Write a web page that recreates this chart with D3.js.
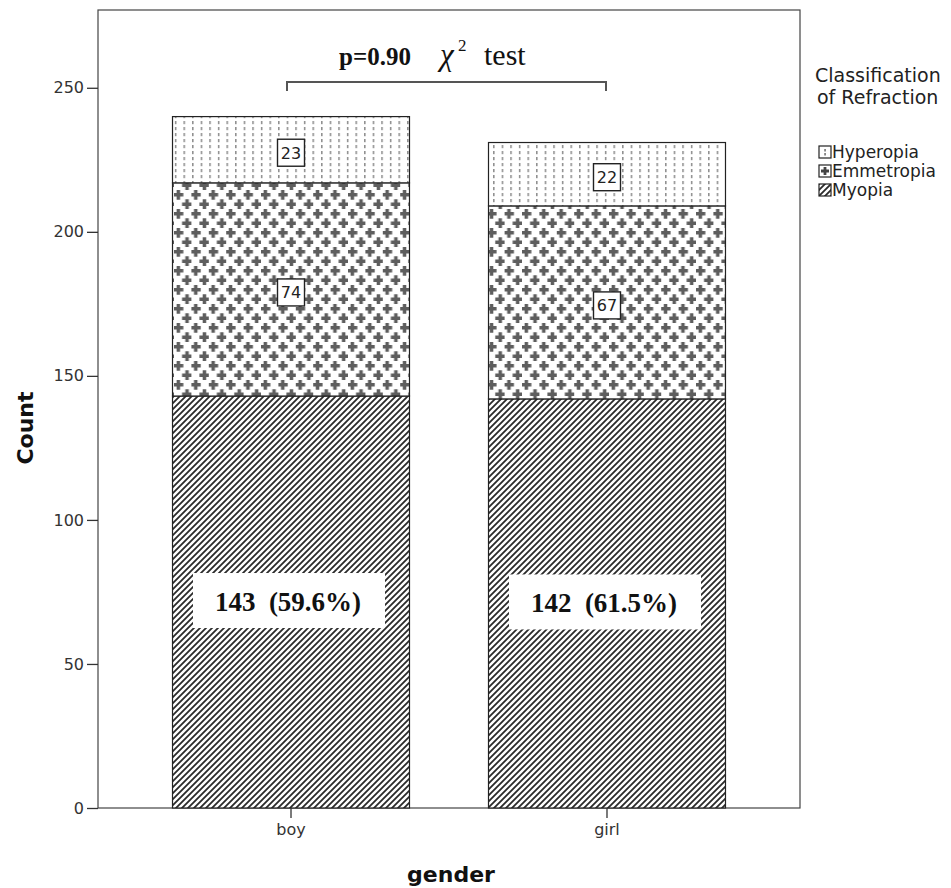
<!DOCTYPE html>
<html>
<head>
<meta charset="utf-8">
<script src="https://cdn.jsdelivr.net/npm/d3@7/dist/d3.min.js"></script>
<style>
  html, body { margin: 0; padding: 0; background: #fff; }
  svg { display: block; }
</style>
</head>
<body>
<svg id="chart" width="951" height="888"></svg>
<script>
// Refraction classification counts by gender (stacked, bottom to top)
const genders = ["boy", "girl"];
const classes = ["Myopia", "Emmetropia", "Hyperopia"];
const myopia = [143, 142];
const emmetropia = [74, 67];
const hyperopia = [23, 22];
const yTicks = [0, 50, 100, 150, 200, 250];
const legendOrder = ["Hyperopia", "Emmetropia", "Myopia"];
const pValueText = "p=0.90";

const SANS = "DejaVu Sans, Verdana, sans-serif";
const SERIF = "Liberation Serif, Times New Roman, serif";
const plot = { left: 98, right: 800, top: 10, bottom: 808 };

const svg = d3.select("#chart");

// Fill patterns for each class
const defs = svg.append("defs");
const hatch = defs.append("pattern").attr("id", "pat-Myopia")
  .attr("patternUnits", "userSpaceOnUse").attr("width", 6).attr("height", 6);
hatch.append("rect").attr("width", 6).attr("height", 6).attr("fill", "#fff");
hatch.append("path").attr("d", "M-1,1 L1,-1 M0,6 L6,0 M5,7 L7,5")
  .attr("stroke", "#2a2a2a").attr("stroke-width", 1.8);

const plusPath = (cx, cy, a = 1.75, r = 5) =>
  `M${cx - a},${cy - r}h${2 * a}v${r - a}h${r - a}v${2 * a}h${a - r}v${r - a}h${-2 * a}v${a - r}h${a - r}v${-2 * a}h${r - a}z`;
const cross = defs.append("pattern").attr("id", "pat-Emmetropia")
  .attr("patternUnits", "userSpaceOnUse").attr("width", 17.4).attr("height", 19);
cross.append("rect").attr("width", 17.4).attr("height", 19).attr("fill", "#fff");
[[4.35, 4.75], [13.05, 14.25]].forEach(([cx, cy]) => {
  cross.append("path").attr("d", plusPath(cx, cy)).attr("fill", "#5e5e5e");
});

const dots = defs.append("pattern").attr("id", "pat-Hyperopia")
  .attr("patternUnits", "userSpaceOnUse").attr("width", 8.6).attr("height", 6);
dots.append("rect").attr("width", 8.6).attr("height", 6).attr("fill", "#fff");
dots.append("rect").attr("x", 3).attr("y", 1).attr("width", 1.3).attr("height", 3.2)
  .attr("fill", "#7a7a7a");

// Scales
const x = d3.scaleBand().domain(genders)
  .range([plot.left, plot.right]).paddingInner(0.25).paddingOuter(0.2358);
const y = d3.scaleLinear().domain([0, 277]).range([plot.bottom, plot.top]);

const rows = genders.map((g, i) => ({
  gender: g, Myopia: myopia[i], Emmetropia: emmetropia[i], Hyperopia: hyperopia[i]
}));
const series = d3.stack().keys(classes)(rows);

// Plot frame
svg.append("rect")
  .attr("x", plot.left).attr("y", plot.top)
  .attr("width", plot.right - plot.left).attr("height", plot.bottom - plot.top)
  .attr("fill", "#fff").attr("stroke", "#444").attr("stroke-width", 1.2);

// Stacked bars
const gBars = svg.append("g");
series.forEach(s => {
  gBars.selectAll(null).data(s).enter().append("rect")
    .attr("x", d => x(d.data.gender))
    .attr("width", x.bandwidth())
    .attr("y", d => y(d[1]))
    .attr("height", d => y(d[0]) - y(d[1]))
    .attr("fill", `url(#pat-${s.key})`)
    .attr("stroke", "#222").attr("stroke-width", 1.2);
});

// Small value boxes for Emmetropia and Hyperopia segments
series.filter(s => s.key !== "Myopia").forEach(s => {
  s.forEach(d => {
    const cx = x(d.data.gender) + x.bandwidth() / 2;
    const cy = (y(d[0]) + y(d[1])) / 2 + 3;
    const g = svg.append("g");
    g.append("rect").attr("x", cx - 13.5).attr("y", cy - 13.5)
      .attr("width", 27).attr("height", 27)
      .attr("fill", "#fff").attr("stroke", "#222").attr("stroke-width", 1.4);
    g.append("text").attr("x", cx).attr("y", cy + 6)
      .attr("text-anchor", "middle")
      .attr("font-family", SANS)
      .attr("font-size", 16).attr("fill", "#222")
      .text(d.data[s.key]);
  });
});

// Large Myopia labels with share of the bar total
series.find(s => s.key === "Myopia").forEach((d, i) => {
  const total = myopia[i] + emmetropia[i] + hyperopia[i];
  const pct = (100 * myopia[i] / total).toFixed(1);
  const cx = x(d.data.gender) + x.bandwidth() / 2;
  const cy = y(d[1] / 2);
  svg.append("rect").attr("x", cx - 98).attr("y", cy - 29)
    .attr("width", 192).attr("height", 55).attr("fill", "#fff");
  svg.append("text").attr("x", cx - 3).attr("y", cy + 9)
    .attr("text-anchor", "middle")
    .attr("font-family", SERIF)
    .attr("font-weight", "bold").attr("font-size", 27).attr("fill", "#111")
    .attr("xml:space", "preserve")
    .text(`${d.data.Myopia}  (${pct}%)`);
});

// Y axis
const yAxis = d3.axisLeft(y).tickValues(yTicks).tickSize(11).tickPadding(3);
const gy = svg.append("g").attr("transform", `translate(${plot.left},0)`).call(yAxis);
gy.select(".domain").remove();
gy.selectAll(".tick line").attr("stroke", "#333").attr("stroke-width", 1.3);
gy.selectAll(".tick text").attr("font-family", SANS)
  .attr("font-size", 16).attr("fill", "#333");

// X axis
const xAxis = d3.axisBottom(x).tickSize(10).tickPadding(6);
const gx = svg.append("g").attr("transform", `translate(0,${plot.bottom})`).call(xAxis);
gx.select(".domain").remove();
gx.selectAll(".tick line").attr("stroke", "#333").attr("stroke-width", 1.3);
gx.selectAll(".tick text").attr("font-family", SANS)
  .attr("font-size", 16).attr("fill", "#333");

// Axis titles
svg.append("text").attr("transform", `translate(33,${(plot.top + plot.bottom) / 2 + 19}) rotate(-90)`)
  .attr("text-anchor", "middle")
  .attr("font-family", SANS)
  .attr("font-weight", "bold").attr("font-size", 22).attr("fill", "#111")
  .text("Count");
svg.append("text").attr("x", 451).attr("y", 882)
  .attr("text-anchor", "middle")
  .attr("font-family", SANS)
  .attr("font-weight", "bold").attr("font-size", 22).attr("fill", "#111")
  .text("gender");

// Significance bracket and test annotation
const bx0 = 287, bx1 = 606, by = 82;
svg.append("path")
  .attr("d", `M${bx0},${by + 9}V${by}H${bx1}V${by + 9}`)
  .attr("fill", "none").attr("stroke", "#555").attr("stroke-width", 2);
const ann = svg.append("text").attr("y", 65)
  .attr("font-family", SERIF).attr("fill", "#111");
ann.append("tspan").attr("x", 339).attr("font-weight", "bold").attr("font-size", 25).text(pValueText);
ann.append("tspan").attr("x", 440).attr("font-style", "italic").attr("font-size", 31).text("χ");
ann.append("tspan").attr("x", 458).attr("dy", -14).attr("font-size", 17).text("2");
ann.append("tspan").attr("x", 484).attr("dy", 14).attr("font-size", 30).text("test");

// Legend
const lg = svg.append("g");
lg.append("text")
  .attr("font-family", SANS).attr("font-size", 19).attr("fill", "#222")
  .selectAll("tspan").data(["Classification", "of Refraction"]).enter()
  .append("tspan").attr("x", (d, i) => i ? 817 : 815).attr("y", (d, i) => 82 + i * 22).text(d => d);

// Legend swatches: one glyph of each fill
const sw = 12;
legendOrder.forEach((k, i) => {
  const ly = 152 + i * 19;
  const g = lg.append("g").attr("transform", `translate(819,${ly - sw / 2})`);
  g.append("rect").attr("width", sw).attr("height", sw)
    .attr("fill", k === "Myopia" ? "url(#pat-Myopia)" : "#fff")
    .attr("stroke", "#222").attr("stroke-width", 1.2);
  if (k === "Hyperopia") {
    g.append("rect").attr("x", 5.4).attr("y", 3).attr("width", 1.3).attr("height", 2.5).attr("fill", "#555");
    g.append("rect").attr("x", 5.4).attr("y", 7).attr("width", 1.3).attr("height", 2.5).attr("fill", "#555");
  } else if (k === "Emmetropia") {
    g.append("path").attr("d", plusPath(sw / 2, sw / 2, 1.4, 4)).attr("fill", "#444");
  }
  lg.append("text").attr("x", 832).attr("y", ly + 6)
    .attr("font-family", SANS)
    .attr("font-size", 17).attr("fill", "#222").text(k);
});
</script>
</body>
</html>
